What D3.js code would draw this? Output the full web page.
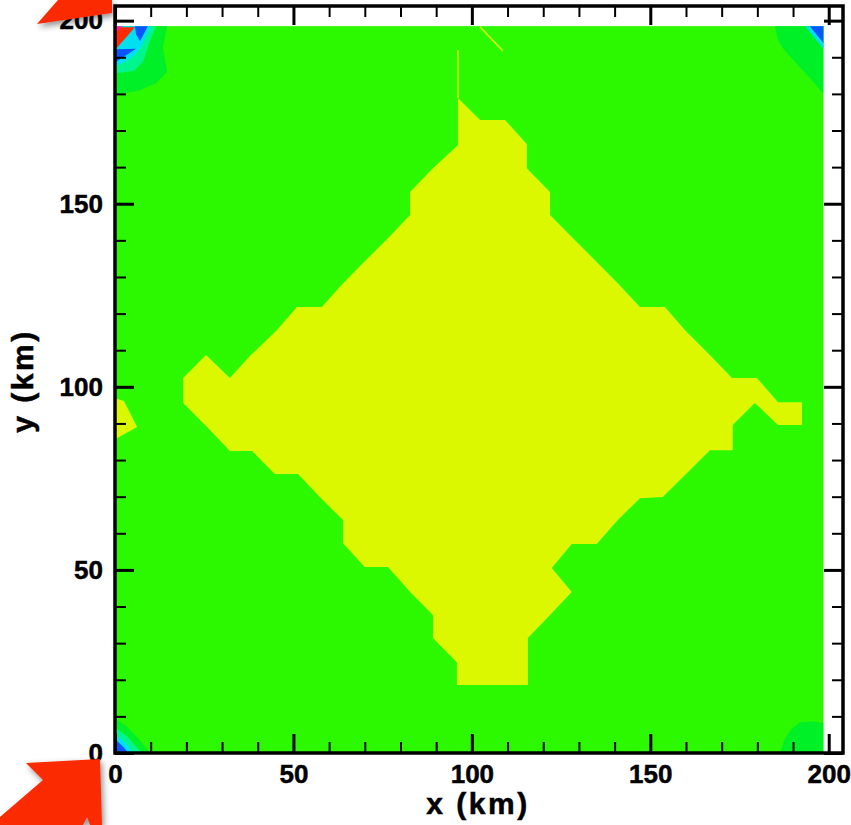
<!doctype html>
<html lang="en">
<head>
<meta charset="UTF-8">
<title>Contour field</title>
<style>
  body { margin: 0; background: #fff; }
  text { font-family: "Liberation Sans", Arial, sans-serif; font-weight: bold; }
</style>
</head>
<body>
<div id="chart"></div>
<script src="https://cdn.jsdelivr.net/npm/d3@7"></script>
<script>
// ---- data (km) ----
const fieldSize = 198.5
const majorTicks = [0, 50, 100, 150, 200]
const minorTicks = [10, 20, 30, 40, 60, 70, 80, 90, 110, 120, 130, 140, 160, 170, 180, 190]

// main yellow region
const diamond = [[96.1,178.9],[102.3,172.9],[109.3,172.9],[115.4,166.3],[115.4,159.7],[121.9,153.2],
  [121.9,146.9],[128.0,140.9],[134.5,134.6],[140.9,128.3],[147.1,121.8],[154.1,121.8],[159.7,115.5],
  [166.7,108.7],[172.9,102.4],[179.9,102.4],[185.8,95.8],[192.5,95.8],[192.5,89.6],[185.8,89.6],
  [179.3,95.6],[173.1,89.6],[173.1,82.7],[166.7,82.7],[160.3,76.5],[153.5,69.9],[147.1,69.6],
  [140.9,63.6],[135.0,57.1],[128.0,57.1],[122.4,50.5],[128.0,44.0],[121.9,37.7],[115.7,31.4],
  [115.7,18.6],[95.8,18.6],[95.8,24.8],[89.1,31.4],[89.1,37.7],[82.7,44.0],[76.5,50.8],[70.0,50.8],
  [63.9,57.3],[63.9,63.6],[57.4,69.9],[51.3,76.2],[44.8,76.2],[38.4,82.5],[32.2,82.5],[25.8,89.0],
  [19.1,95.6],[19.1,102.4],[25.5,108.7],[32.2,102.4],[37.8,108.4],[45.4,115.5],[51.0,121.8],
  [58.0,121.8],[63.0,127.3],[69.5,133.8],[76.5,140.6],[82.7,146.9],[82.7,153.2],[89.1,159.7],[96.1,166.0]]
const leftBlob = [[0,96.9],[2.5,96.1],[6.2,89.0],[0,85.7]]
const spike = [[96.1,192.0],[96.1,178.9]]
const sliver = [[102.3,198.3],[108.7,191.7]]

// corner patches
const trDark = [[184.9,198.5],[185.8,194.7],[186.9,192.8],[189.1,190.3],[191.9,187.3],[195.3,183.8],[198.1,180.5],[198.5,180.4],[198.5,198.5]]
const trCyan = [[193.4,198.5],[198.5,198.5],[198.5,192.3]]
const trBlue = [[194.7,198.5],[198.5,198.5],[198.5,193.9]]
const brDark = [[186.3,0],[187.6,3.6],[189.6,6.6],[192.0,8.4],[195.4,8.6],[198.5,8.2],[198.5,0]]
const tlDark = [[0,198.5],[14.6,198.5],[13.4,192.8],[14.6,186.0],[11.5,183.0],[7.0,181.0],[0,179.7]]
const tlAqua = [[0,198.5],[11.5,198.5],[9.6,193.9],[8.0,189.0],[5.5,186.4],[3.4,186.0],[0,185.7]]
const tlCyan = [[0,198.5],[10.0,198.5],[7.8,193.4],[5.5,190.4],[2.5,188.5],[0,187.6]]
const tlBlueA = [[5.6,198.5],[9.2,198.5],[7.0,194.4],[5.9,196.3]]
const tlBlueB = [[0,192.2],[5.9,192.3],[0,188.6]]
const tlRed = [[0,198.2],[5.6,198.2],[0,192.0]]
const tlPink = [[0,198.5],[2.2,198.5],[0,196.6]]
const blDark = [[0,0],[0,9.4],[3.0,7.5],[6.5,4.0],[9.8,0]]
const blAqua = [[0,0],[0,7.0],[3.5,4.5],[7.5,0]]
const blCyan = [[0,0],[0,5.2],[2.8,3.0],[5.2,0]]
const blBlue = [[0,0],[0,3.8],[2.2,1.8],[3.8,0]]

const colors = {
  green: '#2cf800', yellow: '#dcf800', dark: '#00f028', aqua: '#00f58c',
  cyan: '#00e0f0', blue: '#0a55ff', red: '#ff2a00', pink: '#ff1ea0'
}

// ---- drawing ----
const width = 851, height = 825

const svg = d3.select('#chart').append('svg')
  .attr('width', width).attr('height', height)

const x = d3.scaleLinear().domain([0, 204]).range([115, 843])
const y = d3.scaleLinear().domain([0, 204]).range([753, 6])

const line = d3.line().x(d => x(d[0])).y(d => y(d[1]))

svg.append('rect')
  .attr('x', x(0)).attr('y', y(fieldSize))
  .attr('width', x(fieldSize) - x(0)).attr('height', y(0) - y(fieldSize))
  .attr('fill', colors.green)

const layers = [
  [trDark, colors.dark], [trCyan, colors.cyan], [trBlue, colors.blue],
  [brDark, colors.dark],
  [tlDark, colors.dark], [tlAqua, colors.aqua], [tlCyan, colors.cyan],
  [tlBlueA, colors.blue], [tlBlueB, colors.blue], [tlRed, colors.red], [tlPink, colors.pink],
  [blDark, colors.dark], [blAqua, colors.aqua], [blCyan, colors.cyan], [blBlue, colors.blue],
  [diamond, colors.yellow], [leftBlob, colors.yellow]
]
svg.append('g').selectAll('path')
  .data(layers)
  .join('path')
  .attr('d', d => line(d[0]) + 'Z')
  .attr('fill', d => d[1])

svg.append('g').selectAll('path')
  .data([spike, sliver])
  .join('path')
  .attr('d', line)
  .attr('fill', 'none')
  .attr('stroke', colors.yellow)
  .attr('stroke-width', 1.6)

// frame
svg.append('rect')
  .attr('x', x(0)).attr('y', y(204))
  .attr('width', x(204) - x(0)).attr('height', y(0) - y(204))
  .attr('fill', 'none').attr('stroke', '#000').attr('stroke-width', 3.5)

function ticks(axis, tr, values, size, sw, labels) {
  const g = svg.append('g')
    .attr('transform', tr)
    .call(axis.tickValues(values).tickSize(-size).tickPadding(12)
      .tickFormat(labels ? d3.format('d') : ''))
  g.select('.domain').remove()
  g.selectAll('line').attr('stroke-width', sw)
  g.selectAll('text').attr('font-size', 26).attr('fill', '#000')
    .attr('stroke', '#000').attr('stroke-width', 0.5)
  return g
}
ticks(d3.axisBottom(x), 'translate(0,753)', majorTicks, 19, 3, true)
ticks(d3.axisBottom(x), 'translate(0,753)', minorTicks, 11, 2, false)
ticks(d3.axisLeft(y), 'translate(115,0)', majorTicks, 19, 3, true)
ticks(d3.axisLeft(y), 'translate(115,0)', minorTicks, 11, 2, false)
ticks(d3.axisTop(x), 'translate(0,6)', majorTicks, 19, 3, false)
ticks(d3.axisTop(x), 'translate(0,6)', minorTicks, 11, 2, false)
ticks(d3.axisRight(y), 'translate(843,0)', majorTicks, 19, 3, false)
ticks(d3.axisRight(y), 'translate(843,0)', minorTicks, 11, 2, false)

svg.append('text')
  .attr('x', 478).attr('y', 814)
  .attr('text-anchor', 'middle')
  .attr('font-size', 30).attr('letter-spacing', 2.5)
  .attr('stroke', '#000').attr('stroke-width', 0.5)
  .text('x (km)')
svg.append('text')
  .attr('transform', 'translate(33,381) rotate(-90)')
  .attr('text-anchor', 'middle')
  .attr('font-size', 30).attr('letter-spacing', 2.5)
  .attr('stroke', '#000').attr('stroke-width', 0.5)
  .text('y (km)')

// red pointer arrows (annotations)
const defs = svg.append('defs')
defs.append('filter').attr('id', 'shadow')
  .attr('x', '-30%').attr('y', '-30%').attr('width', '160%').attr('height', '160%')
  .append('feDropShadow')
  .attr('dx', 2).attr('dy', 3).attr('stdDeviation', 3)
  .attr('flood-color', '#000').attr('flood-opacity', 0.45)

const arrows = [
  [[37,24],[58,0],[112,0],[112,13]],
  [[26,763],[100,759],[102,825],[90,825],[87,817],[83,825],[0,825],[0,817],[43,780]]
]
svg.append('g').selectAll('path')
  .data(arrows)
  .join('path')
  .attr('d', d => d3.line()(d) + 'Z')
  .attr('fill', '#fb2a00')
  .attr('filter', 'url(#shadow)')
</script>
</body>
</html>
